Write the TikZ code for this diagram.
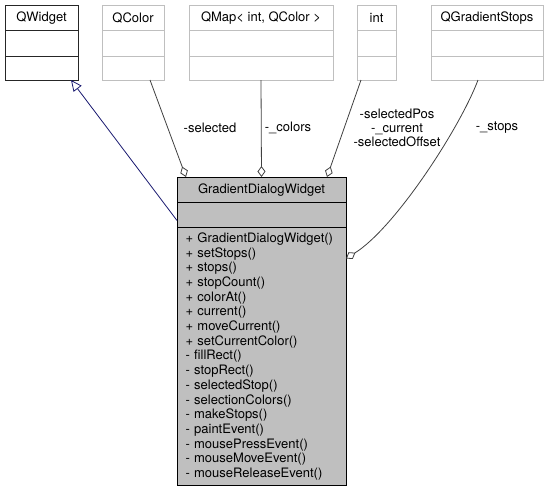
\documentclass[tikz,border=0pt]{standalone}
\usepackage{fontspec}
\setmainfont{TeX Gyre Heros}
\usetikzlibrary{positioning,arrows.meta}
\definecolor{edgegray}{HTML}{404040}
\definecolor{lightframe}{HTML}{BFBFBF}
\definecolor{classfill}{HTML}{BFBFBF}
\definecolor{inherit}{HTML}{191970}

\begin{document}
\begin{tikzpicture}[
  x=1pt, y=-1pt,
  font=\fontsize{13}{14}\selectfont,
  node distance=0pt,
  cell/.style={draw, line width=1pt, inner sep=0pt, outer sep=0pt, minimum height=25.5pt},
  extcell/.style={cell, draw=lightframe, fill=white},
  agg/.style={draw=edgegray, line width=0.8pt, -{Diamond[open, length=11pt, width=8pt]}},
  gen/.style={draw=inherit, line width=0.8pt, -{Triangle[open, length=11pt, width=10pt]}},
  role/.style={align=center, inner sep=0pt}
]
\useasboundingbox (0,0) rectangle (551,493);

% base class
\node[cell, minimum width=73pt, anchor=north west, draw=black!85] (qwidget) at (5,5) {QWidget};
\node[cell, minimum width=73pt, draw=black!85, below=of qwidget] (qwidget-a) {};
\node[cell, minimum width=73pt, draw=black!85, minimum height=24pt, below=of qwidget-a] (qwidget-o) {};

% member types
\foreach \n/\x/\w/\t in {qcolor/102/62/QColor, qmap/189/144/{QMap< int, QColor >},
                         int/357/39/int, qstops/431/112/QGradientStops} {
  \node[extcell, minimum width=\w pt, anchor=north west] (\n) at (\x,5) {\t};
  \node[extcell, minimum width=\w pt, below=of \n] (\n-a) {};
  \node[extcell, minimum width=\w pt, minimum height=24pt, below=of \n-a] (\n-o) {};
}

% the class itself
\node[cell, fill=classfill, minimum width=169pt, anchor=north west] (gdw) at (177,177) {GradientDialogWidget};
\node[cell, fill=classfill, minimum width=169pt, minimum height=25pt, below=of gdw] (gdw-a) {};
\node[cell, fill=classfill, below=of gdw-a, minimum height=258pt, text width=152pt,
      inner xsep=8.5pt, align=left, font=\fontsize{13}{14.7}\selectfont] (gdw-o)
  {+ GradientDialogWidget()\\+ setStops()\\+ stops()\\+ stopCount()\\+ colorAt()\\+ current()\\
   + moveCurrent()\\+ setCurrentColor()\\- fillRect()\\- stopRect()\\- selectedStop()\\
   - selectionColors()\\- makeStops()\\- paintEvent()\\- mousePressEvent()\\
   - mouseMoveEvent()\\- mouseReleaseEvent()};

\draw[gen] ([yshift=-18pt]gdw-a.north west) -- ([xshift=-7pt]qwidget-o.south east);

\draw[agg] ([xshift=17pt]qcolor-o.south) -- ([xshift=-75.5pt]gdw.north);
\draw[agg] (qmap-o.south) -- (gdw.north);
\draw[agg] ([xshift=-15.5pt]int-o.south) -- ([xshift=65.5pt]gdw.north);
\draw[agg] ([xshift=-9pt]qstops-o.south) .. controls (460,128) and (395,228) .. ([yshift=-31pt]gdw-o.north east);

\node[role] (l-sel) at (210,128) {-selected};
\node[role] (l-col) at (288,128) {-\_colors};
\node[role] (l-int) at (397,128) {-selectedPos\\-\_current\\-selectedOffset};
\node[role] (l-stops) at (497,128) {-\_stops};

\end{tikzpicture}
\end{document}
